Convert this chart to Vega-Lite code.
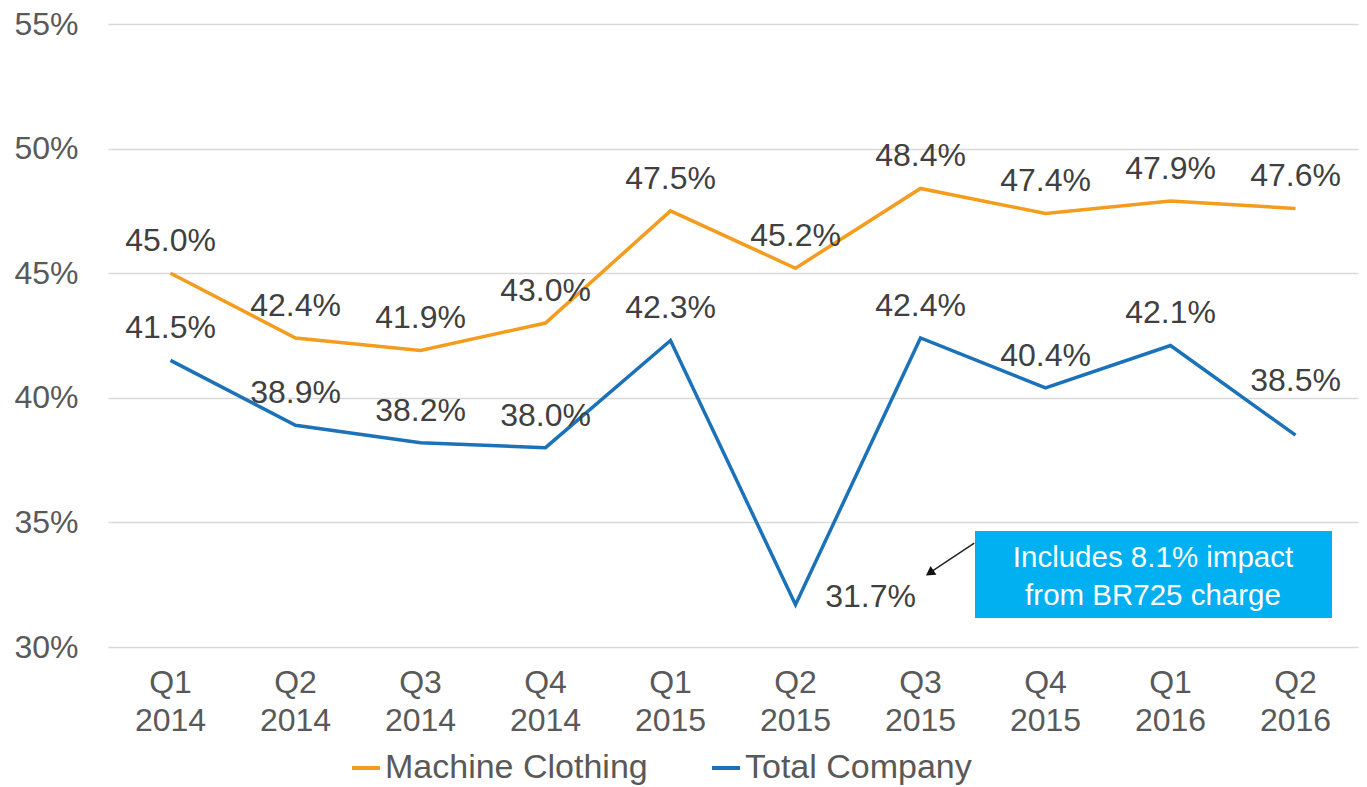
{
  "$schema": "https://vega.github.io/schema/vega-lite/v6.json",
  "autosize": {"type": "none"},
  "width": 1250,
  "height": 623,
  "padding": {"left": 108, "top": 24, "right": 9, "bottom": 140},
  "background": "white",
  "config": {
    "view": {"stroke": null},
    "font": "Liberation Sans",
    "text": {"font": "Liberation Sans"}
  },
  "datasets": {
    "main": [
      {"period": "Q1 2014", "series": "Machine Clothing", "value": 0.450},
      {"period": "Q2 2014", "series": "Machine Clothing", "value": 0.424},
      {"period": "Q3 2014", "series": "Machine Clothing", "value": 0.419},
      {"period": "Q4 2014", "series": "Machine Clothing", "value": 0.430},
      {"period": "Q1 2015", "series": "Machine Clothing", "value": 0.475},
      {"period": "Q2 2015", "series": "Machine Clothing", "value": 0.452},
      {"period": "Q3 2015", "series": "Machine Clothing", "value": 0.484},
      {"period": "Q4 2015", "series": "Machine Clothing", "value": 0.474},
      {"period": "Q1 2016", "series": "Machine Clothing", "value": 0.479},
      {"period": "Q2 2016", "series": "Machine Clothing", "value": 0.476},
      {"period": "Q1 2014", "series": "Total Company", "value": 0.415},
      {"period": "Q2 2014", "series": "Total Company", "value": 0.389},
      {"period": "Q3 2014", "series": "Total Company", "value": 0.382},
      {"period": "Q4 2014", "series": "Total Company", "value": 0.380},
      {"period": "Q1 2015", "series": "Total Company", "value": 0.423},
      {"period": "Q2 2015", "series": "Total Company", "value": 0.317},
      {"period": "Q3 2015", "series": "Total Company", "value": 0.424},
      {"period": "Q4 2015", "series": "Total Company", "value": 0.404},
      {"period": "Q1 2016", "series": "Total Company", "value": 0.421},
      {"period": "Q2 2016", "series": "Total Company", "value": 0.385}
    ],
    "note": [
      {"xa": "Q3 2015", "xb": "Q2 2016", "xc": "Q1 2016", "ya": 0.3465, "yb": 0.3116, "yc": 0.3289, "label": "Includes 8.1% impact\nfrom BR725 charge"}
    ],
    "arrow": [
      {"xa": "Q3 2015", "ya": 0.3417, "yb": 0.3301}
    ]
  },
  "encoding": {
    "x": {
      "field": "period", "type": "nominal",
      "scale": {"type": "band", "paddingInner": 0, "paddingOuter": 0,
        "domain": ["Q1 2014","Q2 2014","Q3 2014","Q4 2014","Q1 2015","Q2 2015","Q3 2015","Q4 2015","Q1 2016","Q2 2016"]},
      "axis": {
        "title": null, "domain": false, "ticks": false, "labelAngle": 0,
        "labelExpr": "split(datum.label, ' ')",
        "labelFontSize": 32, "labelColor": "#595959", "labelLineHeight": 38,
        "labelPadding": 20, "labelFont": "Liberation Sans"
      }
    }
  },
  "layer": [
    {
      "data": {"name": "main"},
      "mark": {"type": "line", "strokeWidth": 3.5},
      "encoding": {
        "y": {
          "field": "value", "type": "quantitative",
          "scale": {"domain": [0.30, 0.55], "nice": false, "zero": false},
          "axis": {
            "title": null, "format": ".0%", "values": [0.30, 0.35, 0.40, 0.45, 0.50, 0.55],
            "domain": false, "ticks": false, "grid": true, "gridColor": "#d9d9d9", "gridWidth": 1.5,
            "labelFontSize": 32, "labelColor": "#595959", "labelPadding": 30, "labelFont": "Liberation Sans"
          }
        },
        "color": {
          "field": "series", "type": "nominal",
          "scale": {"domain": ["Machine Clothing", "Total Company"], "range": ["#F39C1D", "#1B72B8"]},
          "legend": {
            "title": null, "orient": "none", "direction": "horizontal",
            "legendX": 241, "legendY": 727,
            "symbolType": "stroke", "symbolSize": 784, "symbolStrokeWidth": 4,
            "labelFontSize": 34, "labelColor": "#595959", "labelFont": "Liberation Sans",
            "labelOffset": 2, "columnPadding": 56, "labelLimit": 400
          }
        }
      }
    },
    {
      "data": {"name": "main"},
      "transform": [{"filter": "!(datum.series == 'Total Company' && (datum.period == 'Q2 2015' || datum.period == 'Q2 2016'))"}],
      "mark": {"type": "text", "dy": -32, "fontSize": 32, "color": "#404040", "baseline": "middle"},
      "encoding": {
        "y": {"field": "value", "type": "quantitative"},
        "text": {"field": "value", "type": "quantitative", "format": ".1%"}
      }
    },
    {
      "data": {"name": "main"},
      "transform": [{"filter": "datum.series == 'Total Company' && datum.period == 'Q2 2015'"}],
      "mark": {"type": "text", "dx": 75, "dy": -8, "fontSize": 32, "color": "#404040", "baseline": "middle"},
      "encoding": {
        "y": {"field": "value", "type": "quantitative"},
        "text": {"field": "value", "type": "quantitative", "format": ".1%"}
      }
    },
    {
      "data": {"name": "main"},
      "transform": [{"filter": "datum.series == 'Total Company' && datum.period == 'Q2 2016'"}],
      "mark": {"type": "text", "dy": -54, "fontSize": 32, "color": "#404040", "baseline": "middle"},
      "encoding": {
        "y": {"field": "value", "type": "quantitative"},
        "text": {"field": "value", "type": "quantitative", "format": ".1%"}
      }
    },
    {
      "data": {"name": "note"},
      "mark": {"type": "rect", "color": "#00B0F0"},
      "encoding": {
        "x": {"field": "xa", "type": "nominal", "bandPosition": 0.936},
        "x2": {"field": "xb", "bandPosition": 0.792},
        "y": {"field": "ya", "type": "quantitative"},
        "y2": {"field": "yb"}
      }
    },
    {
      "data": {"name": "note"},
      "mark": {"type": "text", "lineBreak": "\n", "lineHeight": 38, "fontSize": 29.5, "dy": -17, "color": "white", "baseline": "middle", "align": "center"},
      "encoding": {
        "x": {"field": "xc", "type": "nominal", "bandPosition": 0.36},
        "y": {"field": "yc", "type": "quantitative"},
        "text": {"field": "label", "type": "nominal"}
      }
    },
    {
      "data": {"name": "arrow"},
      "mark": {"type": "rule", "color": "#222222", "strokeWidth": 1.5},
      "encoding": {
        "x": {"field": "xa", "type": "nominal", "bandPosition": 0.93},
        "x2": {"field": "xa", "bandPosition": 0.584},
        "y": {"field": "ya", "type": "quantitative"},
        "y2": {"field": "yb"}
      }
    },
    {
      "data": {"name": "arrow"},
      "mark": {"type": "point", "shape": "triangle", "filled": true, "color": "#111111", "size": 110, "angle": 236, "opacity": 1},
      "encoding": {
        "x": {"field": "xa", "type": "nominal", "bandPosition": 0.584},
        "y": {"field": "yb", "type": "quantitative"}
      }
    }
  ]
}
